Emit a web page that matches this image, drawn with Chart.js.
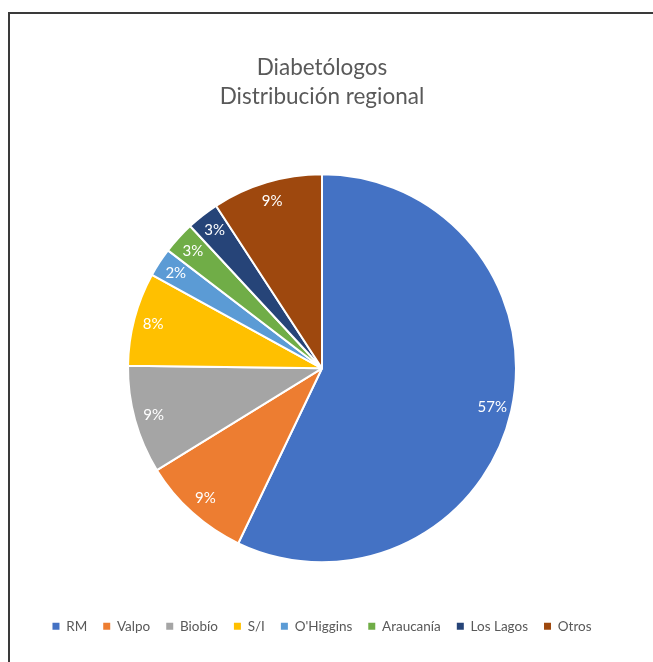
<!DOCTYPE html>
<html>
<head>
<meta charset="utf-8">
<script src="https://cdn.jsdelivr.net/npm/chart.js@4"></script>
<style>
    body { margin: 0; background: #fff; overflow: hidden; }
    #frame { position: absolute; left: 8px; top: 12px; width: 720px; height: 720px; border: 2px solid #3a3a3a; }
    #wrap { position: absolute; left: 0; top: 0; width: 653px; height: 662px; }
</style>
</head>
<body>
<div id="frame"></div>
<div id="wrap"><canvas id="pieChart"></canvas></div>
<script>
// Regions, clockwise from the top
const regions = ['RM', 'Valpo', 'Biobío', 'S/I', "O'Higgins", 'Araucanía', 'Los Lagos', 'Otros'];
// Share of diabetologists (%)
const shares = [57.1, 9.1, 9.0, 7.8, 2.4, 2.7, 2.7, 9.2];
const sliceColors = ['#4472C4', '#ED7D31', '#A5A5A5', '#FFC000', '#5B9BD5', '#70AD47', '#264478', '#9E480E'];
const titleLines = ['Diabetólogos', 'Distribución regional'];

const FONT = 'Lato, "Open Sans", sans-serif';

// Percentage labels inside each slice
const sliceLabels = {
    id: 'sliceLabels',
    afterDatasetsDraw(chart) {
        const ctx = chart.ctx;
        const meta = chart.getDatasetMeta(0);
        const total = shares.reduce((a, b) => a + b, 0);
        ctx.save();
        ctx.font = '15px ' + FONT;
        ctx.fillStyle = '#fff';
        ctx.textAlign = 'center';
        ctx.textBaseline = 'middle';
        meta.data.forEach((arc, i) => {
            const { x, y, startAngle, endAngle, outerRadius } =
                arc.getProps(['x', 'y', 'startAngle', 'endAngle', 'outerRadius'], true);
            const mid = (startAngle + endAngle) / 2;
            const r = outerRadius * 0.9;
            ctx.fillText(Math.round(shares[i] / total * 100) + '%', x + Math.cos(mid) * r, y + Math.sin(mid) * r);
        });
        ctx.restore();
    }
};

const ctx = document.getElementById('pieChart');

new Chart(ctx, {
    type: 'pie',
    data: {
        labels: regions,
        datasets: [{
            data: shares,
            backgroundColor: sliceColors,
            borderColor: '#fff',
            borderWidth: 2,
            radius: 194
        }]
    },
    options: {
        responsive: true,
        maintainAspectRatio: false,
        animation: false,
        layout: {
            padding: { left: 0, right: 9, top: 0, bottom: 19 }
        },
        plugins: {
            title: {
                display: true,
                text: titleLines,
                color: '#595959',
                font: { family: FONT, size: 22.5, weight: 'normal', lineHeight: 1.29 },
                padding: { top: 53, bottom: 22 }
            },
            legend: {
                position: 'bottom',
                labels: {
                    color: '#595959',
                    font: { family: FONT, size: 13.5 },
                    boxWidth: 7,
                    boxHeight: 7,
                    padding: 16,
                    generateLabels(chart) {
                        const items = Chart.overrides.pie.plugins.legend.labels.generateLabels(chart);
                        return items.map(it => Object.assign(it, { lineWidth: 0 }));
                    }
                }
            },
            tooltip: { enabled: false }
        }
    },
    plugins: [sliceLabels]
});
</script>
</body>
</html>
